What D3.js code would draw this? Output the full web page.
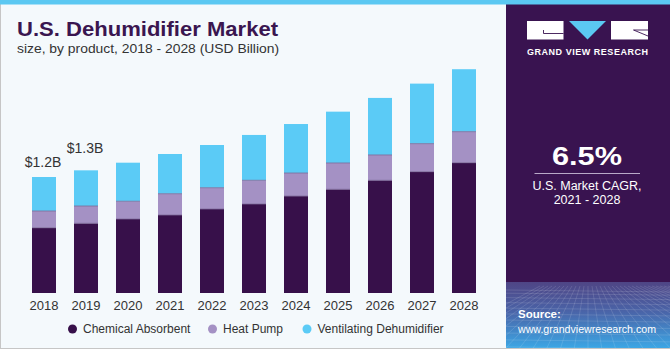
<!DOCTYPE html>
<html>
<head>
<meta charset="utf-8">
<script src="https://cdn.jsdelivr.net/npm/d3@7"></script>
<style>
  html, body { margin: 0; padding: 0; background: #fff; }
  svg { display: block; font-family: "Liberation Sans", Arial, sans-serif; }
</style>
</head>
<body>
<div id="chart"></div>
<script>
// data (USD billion)
const years = ["2018", "2019", "2020", "2021", "2022", "2023", "2024", "2025", "2026", "2027", "2028"];
const chemicalAbsorbent = [0.675, 0.721, 0.766, 0.807, 0.869, 0.921, 1.003, 1.073, 1.166, 1.255, 1.348];
const heatPump = [0.173, 0.179, 0.183, 0.220, 0.220, 0.245, 0.238, 0.272, 0.262, 0.290, 0.321];
const ventilating = [0.352, 0.369, 0.399, 0.411, 0.442, 0.469, 0.507, 0.531, 0.590, 0.621, 0.646];
const seriesNames = ["Chemical Absorbent", "Heat Pump", "Ventilating Dehumidifier"];
const valueLabels = [{ year: "2018", text: "$1.2B" }, { year: "2019", text: "$1.3B" }];

const W = 670, H = 350;
const colors = ["#37104a", "#a491c4", "#5bcbf6"];

const rows = years.map((y, i) => ({
  year: y,
  "Chemical Absorbent": chemicalAbsorbent[i],
  "Heat Pump": heatPump[i],
  "Ventilating Dehumidifier": ventilating[i]
}));

const svg = d3.select('#chart').append('svg')
  .attr('width', W).attr('height', H);

// panels
svg.append('rect').attr('width', W).attr('height', H).attr('fill', '#ffffff');
svg.append('rect').attr('x', 0).attr('y', 0).attr('width', 506).attr('height', 349).attr('fill', '#f4f9fc');
svg.append('line').attr('x1', 0.5).attr('x2', 0.5).attr('y1', 0).attr('y2', 349)
  .attr('stroke', '#c6c6c6').attr('stroke-width', 1);
svg.append('line').attr('x1', 0).attr('x2', 670).attr('y1', 348.5).attr('y2', 348.5)
  .attr('stroke', '#c6c6c6').attr('stroke-width', 1);

svg.append('rect').attr('x', 506).attr('y', 4).attr('width', 164).attr('height', 279).attr('fill', '#391350');

// source box gradient
const defs = svg.append('defs');
const grad = defs.append('linearGradient').attr('id', 'srcGrad')
  .attr('x1', 0).attr('y1', 0).attr('x2', 0).attr('y2', 1);
grad.append('stop').attr('offset', '0%').attr('stop-color', '#4f4585');
grad.append('stop').attr('offset', '45%').attr('stop-color', '#4a64a8');
grad.append('stop').attr('offset', '100%').attr('stop-color', '#3ca6e4');
defs.append('clipPath').attr('id', 'srcClip')
  .append('rect').attr('x', 506).attr('y', 282).attr('width', 164).attr('height', 66);

svg.append('rect').attr('x', 506).attr('y', 282).attr('width', 164).attr('height', 66)
  .attr('fill', 'url(#srcGrad)');

// faint perspective grid
const gridG = svg.append('g').attr('clip-path', 'url(#srcClip)')
  .attr('stroke', '#ffffff').attr('stroke-opacity', 0.16).attr('stroke-width', 0.8).attr('fill', 'none');
d3.range(0, 14).forEach(i => {
  const yy = 290 + Math.pow(i, 1.25) * 3.2;
  gridG.append('line').attr('x1', 506).attr('x2', 670).attr('y1', yy).attr('y2', yy + 2);
});
d3.range(-12, 24).forEach(i => {
  gridG.append('line').attr('x1', 588 + i * 4).attr('y1', 286).attr('x2', 588 + i * 14).attr('y2', 350);
});

// top blue bar
svg.append('rect').attr('x', 0).attr('y', 0).attr('width', W).attr('height', 4.5).attr('fill', '#5bc8f2');

// title
svg.append('text')
  .attr('x', 17).attr('y', 35.5)
  .attr('font-size', '20px').attr('font-weight', 900)
  .attr('fill', '#3a1650')
  .attr('textLength', 261).attr('lengthAdjust', 'spacingAndGlyphs')
  .text('U.S. Dehumidifier Market');
svg.append('text')
  .attr('x', 17).attr('y', 53)
  .attr('font-size', '13.5px')
  .attr('fill', '#333333')
  .attr('textLength', 262).attr('lengthAdjust', 'spacingAndGlyphs')
  .text('size, by product, 2018 - 2028 (USD Billion)');

// scales
const x = d3.scaleBand()
  .domain(years)
  .range([23, 485])
  .paddingInner(0.4286)
  .paddingOuter(0.2143);

const y = d3.scaleLinear()
  .domain([0, 1.2])
  .range([293, 177]);

const stack = d3.stack().keys(seriesNames);
const stacked = stack(rows);

const barG = svg.append('g');
stacked.forEach((layer, li) => {
  barG.selectAll(null)
    .data(layer)
    .join('rect')
    .attr('x', d => x(d.data.year))
    .attr('y', d => y(d[1]))
    .attr('width', x.bandwidth())
    .attr('height', d => y(d[0]) - y(d[1]))
    .attr('fill', colors[li]);
});
// thin separators between segments
stacked.slice(0, 2).forEach(layer => {
  barG.selectAll(null)
    .data(layer)
    .join('line')
    .attr('x1', d => x(d.data.year)).attr('x2', d => x(d.data.year) + x.bandwidth())
    .attr('y1', d => y(d[1])).attr('y2', d => y(d[1]))
    .attr('stroke', '#7c6a98').attr('stroke-width', 0.8);
});

// x axis labels
svg.append('g')
  .attr('transform', 'translate(0,293)')
  .call(d3.axisBottom(x).tickSize(0).tickPadding(5))
  .call(g => g.select('.domain').remove())
  .call(g => g.selectAll('text')
    .attr('font-size', '13px')
    .attr('font-family', '"Liberation Sans", Arial, sans-serif')
    .attr('fill', '#333333')
    .attr('dy', '0.95em'));

// value labels
const labelGap = [10, 17];
svg.selectAll('.vlabel')
  .data(valueLabels)
  .join('text')
  .attr('class', 'vlabel')
  .attr('x', d => x(d.year) + x.bandwidth() / 2 - 1)
  .attr('y', (d, i) => {
    const idx = years.indexOf(d.year);
    return y(chemicalAbsorbent[idx] + heatPump[idx] + ventilating[idx]) - labelGap[i];
  })
  .attr('text-anchor', 'middle')
  .attr('font-size', '14px')
  .attr('fill', '#333333')
  .text(d => d.text);

// legend
const legendPos = [72.5, 212.5, 307];
const legend = svg.append('g');
seriesNames.forEach((name, i) => {
  legend.append('circle')
    .attr('cx', legendPos[i]).attr('cy', 329)
    .attr('r', 4.5).attr('fill', colors[i]);
  legend.append('text')
    .attr('x', legendPos[i] + 10.5).attr('y', 333.3)
    .attr('font-size', '12px').attr('fill', '#333333')
    .text(name);
});

// logo
const logo = svg.append('g');
logo.append('rect').attr('x', 527).attr('y', 21).attr('width', 36.5).attr('height', 18.5).attr('fill', '#ffffff');
logo.append('path').attr('d', 'M 543.5 33.5 L 563.5 33.5 M 543.5 30 L 543.5 33.5')
  .attr('stroke', '#391350').attr('stroke-width', 0.9).attr('fill', 'none');
logo.append('path').attr('d', 'M 569 21 L 606 21 L 587.5 39.5 Z').attr('fill', '#5bc8f2');
logo.append('rect').attr('x', 611).attr('y', 21).attr('width', 37).attr('height', 18.5).attr('fill', '#ffffff');
logo.append('path').attr('d', 'M 633.5 30 L 648 30 M 633.5 30 L 648 36')
  .attr('stroke', '#391350').attr('stroke-width', 0.9).attr('fill', 'none');
logo.append('text')
  .attr('x', 527).attr('y', 54.5)
  .attr('font-size', '9px').attr('font-weight', 'bold')
  .attr('fill', '#ffffff')
  .attr('textLength', 121).attr('lengthAdjust', 'spacing')
  .text('GRAND VIEW RESEARCH');

// CAGR
svg.append('text')
  .attr('x', 587).attr('y', 165)
  .attr('text-anchor', 'middle')
  .attr('font-size', '26px').attr('font-weight', 'bold')
  .attr('fill', '#ffffff')
  .attr('textLength', 70).attr('lengthAdjust', 'spacingAndGlyphs')
  .text('6.5%');
svg.append('line')
  .attr('x1', 534.5).attr('x2', 640).attr('y1', 173.5).attr('y2', 173.5)
  .attr('stroke', '#b9a9c8').attr('stroke-width', 1);
svg.append('text')
  .attr('x', 587).attr('y', 189.5)
  .attr('text-anchor', 'middle')
  .attr('font-size', '12.5px').attr('fill', '#ffffff')
  .text('U.S. Market CAGR,');
svg.append('text')
  .attr('x', 587).attr('y', 204)
  .attr('text-anchor', 'middle')
  .attr('font-size', '12.5px').attr('fill', '#ffffff')
  .text('2021 - 2028');

// source
svg.append('text')
  .attr('x', 518).attr('y', 318)
  .attr('font-size', '11.5px').attr('font-weight', 'bold')
  .attr('fill', '#ffffff')
  .text('Source:');
svg.append('text')
  .attr('x', 518).attr('y', 332.5)
  .attr('font-size', '11.5px')
  .attr('fill', '#ffffff')
  .attr('textLength', 138).attr('lengthAdjust', 'spacingAndGlyphs')
  .text('www.grandviewresearch.com');
</script>
</body>
</html>
